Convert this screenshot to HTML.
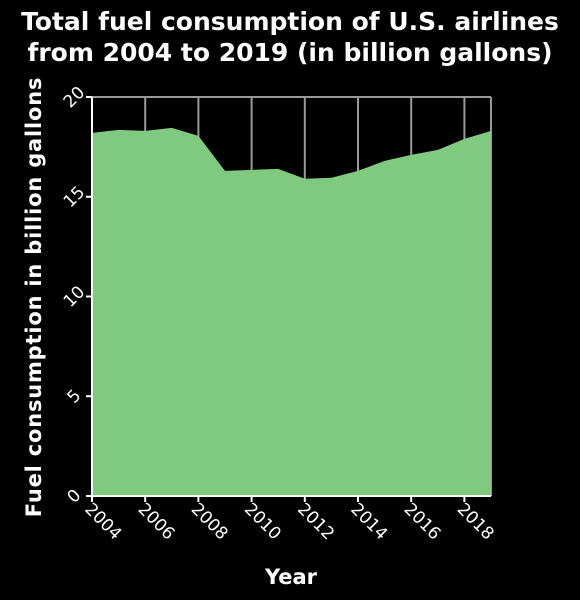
<!DOCTYPE html>
<html><head><meta charset="utf-8"><style>
html,body{margin:0;padding:0;background:#000;}
svg{display:block;font-family:"Liberation Sans","DejaVu Sans",sans-serif;}
</style></head><body>
<svg id="chart" width="580" height="600">
<text x="290" y="30" fill="#fff" font-size="25" font-weight="bold" text-anchor="middle" font-family="DejaVu Sans, sans-serif">Total fuel consumption of U.S. airlines</text>
<text x="290" y="61" fill="#fff" font-size="25" font-weight="bold" text-anchor="middle" font-family="DejaVu Sans, sans-serif">from 2004 to 2019 (in billion gallons)</text>
<text x="291" y="584" fill="#fff" font-size="21" font-weight="bold" text-anchor="middle" font-family="DejaVu Sans, sans-serif">Year</text>
<text transform="translate(41,297) rotate(-90)" fill="#fff" font-size="21" letter-spacing="0.8" font-weight="bold" text-anchor="middle" font-family="DejaVu Sans, sans-serif">Fuel consumption in billion gallons</text>
<g id="plot"></g>
</svg>
<script>
const years = [2004,2005,2006,2007,2008,2009,2010,2011,2012,2013,2014,2015,2016,2017,2018,2019];
const fuel = [18.2,18.35,18.3,18.45,18.05,16.3,16.35,16.4,15.9,15.95,16.3,16.8,17.1,17.35,17.9,18.3];
const xTicks = [2004,2006,2008,2010,2012,2014,2016,2018];
const yTicks = [0,5,10,15,20];

const X0=92,X1=491,Y0=496,Y1=97;
const xs=y=>X0+(y-2004)/(2019-2004)*(X1-X0);
const ys=v=>Y0-v/20*(Y0-Y1);
const NS="http://www.w3.org/2000/svg";
const plotG=document.getElementById('plot');
function mk(t,a){const e=document.createElementNS(NS,t);for(const k in a)e.setAttribute(k,a[k]);plotG.appendChild(e);return e;}

const topBorder=mk('line',{x1:X0,y1:Y1,x2:X1,y2:Y1,stroke:'#999','stroke-width':2});


xTicks.concat([2019]).forEach(t=>{
  const l=mk('line',{x1:xs(t),y1:Y1,x2:xs(t),y2:Y0,stroke:'#999','stroke-width':2});
  
  
});
let d=`M${xs(years[0])},${Y0}`;
years.forEach((y,i)=>{d+=` L${xs(y)},${ys(fuel[i])}`;});
d+=` L${xs(years[years.length-1])},${Y0} Z`;
const area=mk('path',{d:d,fill:'#7fca7f'});



const ya=mk('line',{x1:X0,y1:Y1,x2:X0,y2:Y0,stroke:'#fff','stroke-width':2});


const xa=mk('line',{x1:X0,y1:Y0,x2:X1,y2:Y0,stroke:'#fff','stroke-width':2});



yTicks.forEach(t=>{
  const y=ys(t);
  const tk=mk('line',{x1:X0-6,y1:y,x2:X0,y2:y,stroke:'#fff','stroke-width':2});
  
  
  const tx=mk('text',{transform:`translate(${X0-14},${y+4}) rotate(-45)`,fill:'#fff','font-size':17,'text-anchor':'middle','font-family':'DejaVu Sans, sans-serif'});
  tx.textContent=t;
  
  
});
xTicks.forEach(t=>{
  const x=xs(t);
  const tk=mk('line',{x1:x,y1:Y0,x2:x,y2:Y0+6,stroke:'#fff','stroke-width':2});
  
  
  const tx=mk('text',{transform:`translate(${x-8},${Y0+14}) rotate(45)`,fill:'#fff','font-size':17,'text-anchor':'start','font-family':'DejaVu Sans, sans-serif'});
  tx.textContent=t;
  
  
});
</script>
</body></html>
